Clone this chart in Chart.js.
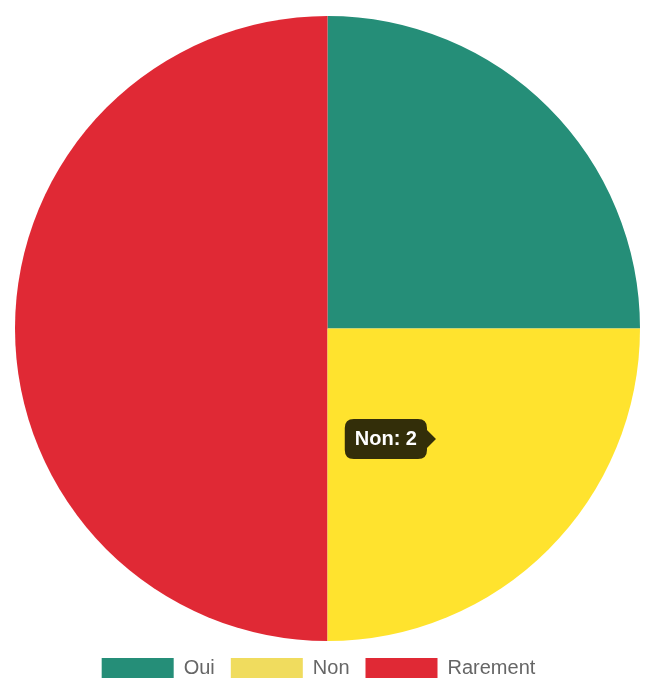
<!DOCTYPE html>
<html lang="fr">
<head>
<meta charset="utf-8">
<title>Réponses</title>
<script src="https://cdn.jsdelivr.net/npm/chart.js@4/dist/chart.umd.min.js"></script>
<style>
  html, body { margin: 0; padding: 0; background: #fff; overflow: hidden; }
  #wrap { width: 651px; height: 688px; }
</style>
</head>
<body>
<div id="wrap"><canvas id="pie" width="651" height="688"></canvas></div>
<script>
// Answers and how many times each was given
const categories = ['Oui', 'Non', 'Rarement'];
const counts = [2, 2, 4];
const sliceColors = ['#258e78', '#f0dc5e', '#e02935'];

// Slice whose tooltip is shown
const highlighted = 1;

// Nudges the legend row a little to the left of the canvas centre
const legendShift = {
  id: 'legendShift',
  afterLayout(chart) {
    if (chart.legend) {
      chart.legend.left -= 9;
      chart.legend.right -= 9;
    }
  }
};

const chart = new Chart(document.getElementById('pie'), {
  type: 'pie',
  data: {
    labels: categories,
    datasets: [{
      data: counts,
      backgroundColor: sliceColors,
      borderWidth: 0,
      hoverBorderWidth: 0,
      hoverOffset: 0
    }]
  },
  options: {
    responsive: false,
    animation: false,
    layout: { padding: { top: 15, left: 15, right: 11, bottom: 0 } },
    plugins: {
      legend: {
        position: 'bottom',
        labels: {
          boxWidth: 72,
          boxHeight: 20,
          padding: 16,
          color: '#666',
          font: { family: "'Liberation Sans', Arial, sans-serif", size: 20 }
        }
      },
      tooltip: {
        backgroundColor: 'rgba(0,0,0,0.8)',
        displayColors: false,
        bodyFont: { family: "'Liberation Sans', Arial, sans-serif", size: 20, weight: 'bold' },
        bodyColor: '#fff',
        padding: { x: 10, y: 8 },
        cornerRadius: 9,
        caretSize: 9,
        caretPadding: 2,
        callbacks: {
          title: () => '',
          label: (ctx) => ctx.label + ': ' + ctx.formattedValue
        }
      }
    }
  },
  plugins: [legendShift]
});

const active = [{ datasetIndex: 0, index: highlighted }];
const arc = chart.getDatasetMeta(0).data[highlighted];
const pos = arc.tooltipPosition();
chart.setActiveElements(active);
chart.tooltip.setActiveElements(active, { x: pos.x, y: pos.y });
chart.update();
</script>
</body>
</html>
